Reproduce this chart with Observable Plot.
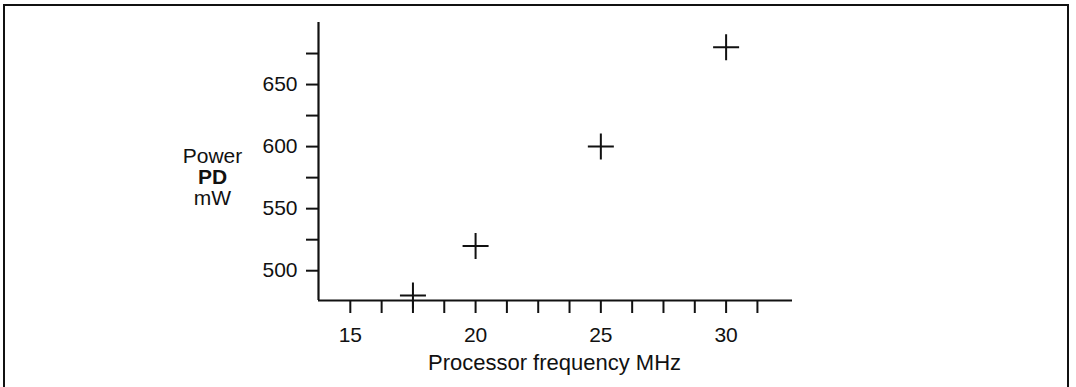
<!DOCTYPE html>
<html>
<head>
<meta charset="utf-8">
<script src="https://cdn.jsdelivr.net/npm/d3@7"></script>
<script src="https://cdn.jsdelivr.net/npm/@observablehq/plot@0.6"></script>
<style>
  html, body { margin: 0; padding: 0; background: #fff; overflow: hidden; }
  #wrap { position: relative; width: 1076px; height: 387px; }
  #frame { position: absolute; left: 3px; top: 4px; width: 1066px; height: 420px;
           border: 2px solid #111; border-bottom: none; box-sizing: border-box; pointer-events: none; }
  svg { display: block; }
</style>
</head>
<body>
<div id="wrap"><div id="frame"></div></div>
<script>
// Data
const frequency = [17.5, 20, 25, 30];      // MHz
const power = [480, 520, 600, 680];        // mW
const xTickLabels = [15, 20, 25, 30];
const xMinorTicks = [15, 16.25, 17.5, 18.75, 20, 21.25, 22.5, 23.75, 25, 26.25, 27.5, 28.75, 30, 31.25];
const yTickLabels = [500, 550, 600, 650];
const yMinorTicks = [500, 525, 550, 575, 600, 625, 650, 675];
const xDomain = [13.73, 32.65];
const yDomain = [476, 700];
const yLabelLines = ["Power", "PD", "mW"];
const xLabel = "Processor frequency MHz";

const points = frequency.map((f, i) => ({f, p: power[i]}));

const cross = {
  draw(context, size) {
    const h = Math.sqrt(size / Math.PI);
    context.moveTo(-h, 0); context.lineTo(h, 0);
    context.moveTo(0, -h); context.lineTo(0, h);
  }
};

const font = "'Liberation Sans', Arial, Helvetica, sans-serif";

const chart = Plot.plot({
  width: 1076,
  height: 387,
  marginLeft: 318,
  marginRight: 284,
  marginTop: 22,
  marginBottom: 87,
  style: {fontFamily: font, fontSize: "21px", color: "#111", background: "transparent"},
  x: {domain: xDomain, axis: null},
  y: {domain: yDomain, axis: null},
  marks: [
    // axis lines
    Plot.ruleX([xDomain[0]], {stroke: "#111", strokeWidth: 2.2}),
    Plot.ruleY([yDomain[0]], {stroke: "#111", strokeWidth: 2.2}),
    // x ticks
    Plot.axisX(xMinorTicks, {anchor: "bottom", tickSize: 13, tickFormat: () => "", strokeWidth: 2, stroke: "#111", label: null}),
    Plot.axisX(xTickLabels, {anchor: "bottom", tickSize: 0, tickPadding: 27, fontSize: 21, fill: "#111", label: null, tickFormat: d => String(d)}),
    // y ticks
    Plot.axisY(yMinorTicks, {anchor: "left", tickSize: 12, tickFormat: () => "", strokeWidth: 2, stroke: "#111", label: null}),
    Plot.axisY(yTickLabels, {anchor: "left", tickSize: 0, tickPadding: 21, fontSize: 21, fill: "#111", label: null, tickFormat: d => String(d)}),
    // y label (three lines)
    Plot.text([yLabelLines[0]], {frameAnchor: "left", text: d => d, dx: -106, dy: -5, fontSize: 21, fill: "#111", textAnchor: "middle"}),
    Plot.text([yLabelLines[1]], {frameAnchor: "left", text: d => d, dx: -106, dy: 16, fontSize: 21, fontWeight: "bold", fill: "#111", textAnchor: "middle"}),
    Plot.text([yLabelLines[2]], {frameAnchor: "left", text: d => d, dx: -106, dy: 37, fontSize: 21, fill: "#111", textAnchor: "middle"}),
    // x label
    Plot.text([xLabel], {frameAnchor: "bottom", text: d => d, dx: -1, dy: 69, lineAnchor: "bottom", fontSize: 22, fill: "#111", textAnchor: "middle"}),
    // data crosses
    Plot.dot(points, {x: "f", y: "p", symbol: cross, r: 13, stroke: "#111", strokeWidth: 2, fill: "none"})
  ]
});
document.getElementById("wrap").prepend(chart);
</script>
</body>
</html>
